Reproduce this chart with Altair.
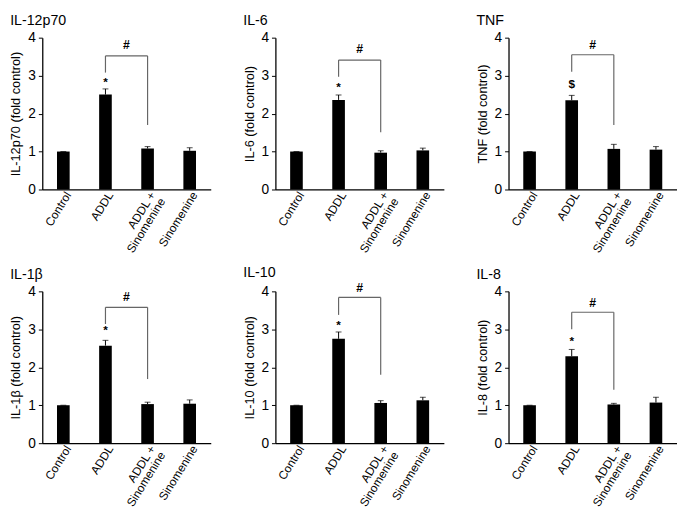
import altair as alt
import pandas as pd

categories = ["Control", "ADDL", "ADDL + Sinomenine", "Sinomenine"]

panel_titles = ["IL-12p70", "IL-6", "TNF", "IL-1β", "IL-10", "IL-8"]
y_titles = ["IL-12p70 (fold control)", "IL-6 (fold control)", "TNF (fold control)",
            "IL-1β (fold control)", "IL-10 (fold control)", "IL-8 (fold control)"]

mean_il12 = [1.00, 2.50, 1.08, 1.02]
err_il12 = [0.00, 0.15, 0.05, 0.08]
mean_il6 = [1.00, 2.36, 0.97, 1.03]
err_il6 = [0.00, 0.13, 0.05, 0.06]
mean_tnf = [1.00, 2.35, 1.07, 1.05]
err_tnf = [0.00, 0.13, 0.12, 0.08]
mean_il1b = [1.00, 2.57, 1.03, 1.04]
err_il1b = [0.00, 0.14, 0.05, 0.10]
mean_il10 = [1.00, 2.75, 1.06, 1.13]
err_il10 = [0.00, 0.18, 0.06, 0.08]
mean_il8 = [1.00, 2.29, 1.02, 1.07]
err_il8 = [0.00, 0.18, 0.03, 0.14]

means = [mean_il12, mean_il6, mean_tnf, mean_il1b, mean_il10, mean_il8]
errs = [err_il12, err_il6, err_tnf, err_il1b, err_il10, err_il8]

sig_marks = ["*", "*", "$", "*", "*", "*"]
sig_y = [2.82, 2.69, 2.78, 2.97, 3.10, 2.69]
bracket_top = [3.52, 3.41, 3.55, 3.58, 3.84, 3.45]
bracket_left_end = [3.08, 2.97, 3.10, 3.14, 3.38, 3.00]
bracket_right_end = [1.70, 1.51, 1.70, 1.69, 1.80, 1.41]
hash_y = [3.80, 3.70, 3.80, 3.84, 4.08, 3.69]

FONT = "Liberation Sans"
W = 172
H = 155

x_scale = alt.Scale(domain=categories, paddingInner=0.7, paddingOuter=0.35)
x_axis = alt.Axis(
    labelAngle=-58, labelAlign="right", labelBaseline="middle", labelFontSize=12,
    ticks=False, labelPadding=3, labelOffset=5, domainColor="black", domainWidth=1.3,
    labelExpr="datum.label == 'ADDL + Sinomenine' ? ['ADDL +\u00a0\u00a0\u00a0', 'Sinomenine'] : datum.label",
    labelLineHeight=12,
)
y_scale = alt.Scale(domain=[0, 4], nice=False)


def y_axis(title):
    return alt.Axis(values=[0, 1, 2, 3, 4], grid=False, labelFontSize=14, titleFontSize=13,
                    titleFontWeight="normal", tickSize=4, domainColor="black", domainWidth=1.3,
                    tickColor="black", labelPadding=3, titlePadding=5, title=title)


def panel(i):
    m = means[i]
    e = errs[i]
    yt = y_titles[i]
    df = pd.DataFrame({"cat": categories, "mean": m, "top": [a + b for a, b in zip(m, e)]})
    X = alt.X("cat:N", scale=x_scale, axis=x_axis, title=None)

    def Y(field):
        return alt.Y(field, scale=y_scale, axis=y_axis(yt), title=yt)

    bars = alt.Chart(df).mark_bar(color="black").encode(x=X, y=Y("mean:Q"))
    err = alt.Chart(df).mark_rule(color="black", strokeWidth=1).encode(x=X, y=Y("mean:Q"), y2="top:Q")
    caps = alt.Chart(df).mark_tick(color="black", thickness=1, size=6).encode(x=X, y=Y("top:Q"))

    sig_df = pd.DataFrame({"cat": ["ADDL"], "y": [sig_y[i]], "t": [sig_marks[i]]})
    sig = alt.Chart(sig_df).mark_text(fontSize=12, fontWeight="bold", font=FONT, color="black").encode(
        x=X, y=Y("y:Q"), text="t:N")

    vert_df = pd.DataFrame({"cat": ["ADDL", "ADDL + Sinomenine"],
                            "y": [bracket_left_end[i], bracket_right_end[i]],
                            "y2": [bracket_top[i], bracket_top[i]]})
    vert = alt.Chart(vert_df).mark_rule(color="#666666", strokeWidth=1.2).encode(
        x=X, y=Y("y:Q"), y2="y2:Q")
    hor_df = pd.DataFrame({"cat": ["ADDL"], "cat2": ["ADDL + Sinomenine"], "y": [bracket_top[i]]})
    hor = alt.Chart(hor_df).mark_rule(color="#666666", strokeWidth=1.2).encode(
        x=X, x2="cat2:N", y=Y("y:Q"))

    hash_df = pd.DataFrame({"cat": ["ADDL"], "y": [hash_y[i]], "t": ["#"]})
    hsh = alt.Chart(hash_df).mark_text(fontSize=12.5, fontWeight="bold", font=FONT, color="black",
                                       dx=W / 8).encode(x=X, y=Y("y:Q"), text="t:N")

    return alt.layer(bars, err, caps, sig, vert, hor, hsh).properties(
        width=W, height=H,
        title=alt.TitleParams(panel_titles[i], anchor="start", frame="bounds", fontSize=14.5,
                              fontWeight="normal", font=FONT, color="black", offset=2),
    )


row1 = alt.hconcat(panel(0), panel(1), panel(2), spacing=33)
row2 = alt.hconcat(panel(3), panel(4), panel(5), spacing=33)
chart = alt.vconcat(row1, row2, spacing=10).properties(
    padding={"left": 2, "top": 0, "right": 0, "bottom": 0}
).configure_axis(
    labelFont=FONT, titleFont=FONT, labelColor="black", titleColor="black",
).configure_view(stroke=None)

chart.save("out.html", embed_options={"renderer": "svg", "actions": False})
